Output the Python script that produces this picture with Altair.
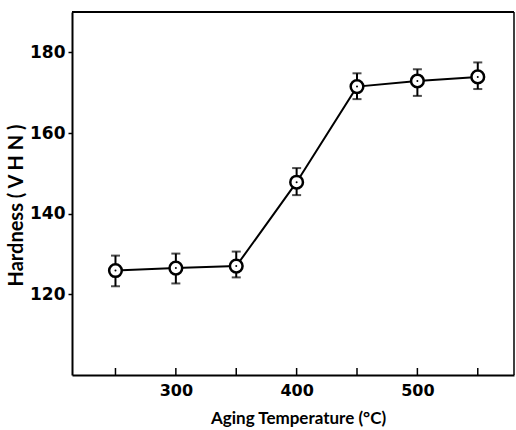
import altair as alt
import pandas as pd

temps = [250, 300, 350, 400, 450, 500, 550]
hardness = [125.9, 126.5, 127.0, 147.8, 171.5, 172.9, 173.9]
err_hi = [129.6, 130.1, 130.6, 151.3, 174.8, 175.8, 177.5]
err_lo = [122.0, 122.7, 124.2, 144.6, 168.4, 169.2, 170.9]
x_ticks = [250, 300, 350, 400, 450, 500, 550]
y_ticks = [120, 140, 160, 180]

df = pd.DataFrame({"T": temps, "H": hardness, "hi": err_hi, "lo": err_lo})
ticks_df = pd.DataFrame({"T": x_ticks})
one_df = pd.DataFrame({"a": [0]})

W, H = 442, 363
FONT = "Lato"
NUMFONT = "DejaVu Sans"

xs = alt.Scale(domain=[214, 580], nice=False, zero=False)
ys = alt.Scale(domain=[100, 190], nice=False, zero=False)

x_axis = alt.Axis(
    values=x_ticks,
    labelExpr="datum.value % 100 == 0 ? datum.label : ''",
    ticks=False, grid=False, labelPadding=7,
    labelFont=NUMFONT, labelFontWeight="bold", labelFontSize=16, labelColor="black",
    domainColor="black", domainWidth=2,
    title="Aging Temperature (°C)", titleFont=FONT, titleFontWeight="bold",
    titleFontSize=17, titleColor="black", titleX=226, titleY=48,
    titleBaseline="alphabetic", titleAlign="center",
)
y_axis = alt.Axis(
    values=y_ticks, grid=False, tickSize=4, tickColor="black", tickWidth=1.5,
    labelPadding=3, labelFont=NUMFONT, labelFontWeight="bold", labelFontSize=17,
    labelColor="black", domainColor="black", domainWidth=2,
    title="Hardness ( V H N )", titleFont=FONT, titleFontWeight="bold",
    titleFontSize=20, titleColor="black", titleX=-56, titleY=193,
    titleAngle=270, titleAlign="center", titleBaseline="middle",
)

base = alt.Chart(df)

line = base.mark_line(color="black", strokeWidth=2).encode(
    x=alt.X("T:Q", scale=xs, axis=x_axis), y=alt.Y("H:Q", scale=ys, axis=y_axis),
)
bars = base.mark_rule(color="black", strokeWidth=2).encode(
    x=alt.X("T:Q", scale=xs), y=alt.Y("lo:Q", scale=ys), y2="hi:Q"
)
cap_hi = base.mark_tick(color="black", orient="horizontal", size=9, thickness=2).encode(
    x=alt.X("T:Q", scale=xs), y=alt.Y("hi:Q", scale=ys)
)
cap_lo = base.mark_tick(color="black", orient="horizontal", size=9, thickness=2).encode(
    x=alt.X("T:Q", scale=xs), y=alt.Y("lo:Q", scale=ys)
)
circles = base.mark_point(shape="circle", filled=False, fill="white", fillOpacity=1,
                          color="black", strokeWidth=2.5, size=160, opacity=1).encode(
    x=alt.X("T:Q", scale=xs), y=alt.Y("H:Q", scale=ys)
)
dots = base.mark_point(shape="circle", filled=True, color="black", size=4, opacity=1).encode(
    x=alt.X("T:Q", scale=xs), y=alt.Y("H:Q", scale=ys)
)
xticks = alt.Chart(ticks_df).mark_rule(color="black", strokeWidth=1.5).encode(
    x=alt.X("T:Q", scale=xs), y=alt.value(H), y2=alt.value(H - 7)
)
top_border = alt.Chart(one_df).mark_rule(color="black", strokeWidth=2).encode(
    x=alt.value(0), x2=alt.value(W), y=alt.value(0), y2=alt.value(0)
)
right_border = alt.Chart(one_df).mark_rule(color="black", strokeWidth=1.5).encode(
    x=alt.value(W), x2=alt.value(W), y=alt.value(0), y2=alt.value(H)
)

chart = alt.layer(line, bars, cap_hi, cap_lo, circles, dots, xticks,
                  top_border, right_border).properties(
    width=W, height=H,
    autosize=alt.AutoSizeParams(type="none"),
    padding={"left": 72, "top": 12, "right": 2, "bottom": 55},
).configure(background="white").configure_view(stroke=None)

chart.save("out.html", embed_options={"renderer": "svg", "actions": False})
